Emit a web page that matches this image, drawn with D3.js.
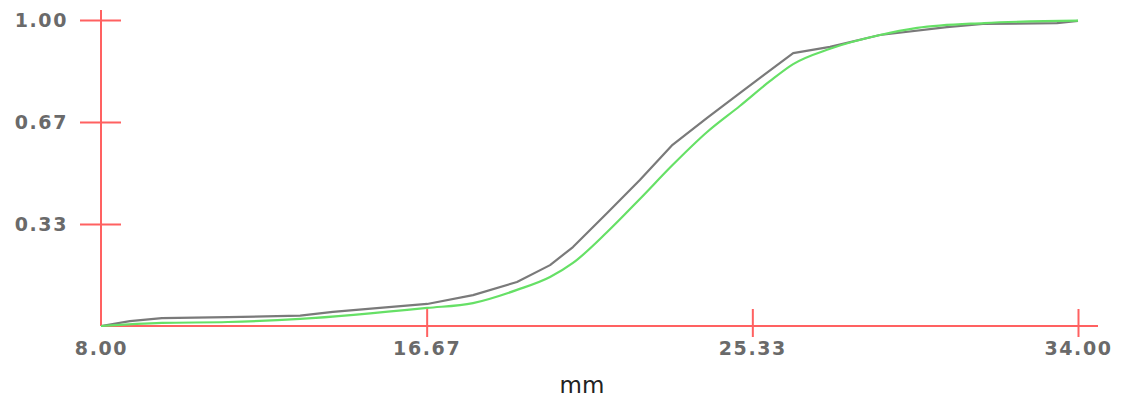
<!DOCTYPE html>
<html>
<head>
<meta charset="utf-8">
<script src="https://cdn.jsdelivr.net/npm/d3@7"></script>
<style>
  html, body { margin: 0; padding: 0; background: #fff; }
  svg { display: block; }
</style>
</head>
<body>
<svg id="chart" width="1127" height="400"></svg>
<script>
// Cumulative distribution of size (mm): measured (gray) and fitted (green)
const measuredMm  = [8.00, 8.77, 9.62, 11.38, 13.30, 14.17, 15.42, 16.68, 17.90, 19.07, 19.95, 20.56, 21.47, 22.34, 23.21, 24.13, 25.00, 26.42, 27.40, 28.73, 30.51, 31.47, 33.44, 34.00];
const measuredVal = [0.000, 0.016, 0.026, 0.029, 0.034, 0.046, 0.059, 0.072, 0.101, 0.144, 0.199, 0.258, 0.369, 0.477, 0.592, 0.680, 0.761, 0.892, 0.912, 0.951, 0.977, 0.987, 0.990, 0.997];

const fittedMm  = [8.00, 9.62, 11.38, 13.30, 16.68, 17.90, 19.07, 19.95, 20.56, 21.47, 22.34, 23.21, 24.13, 25.00, 25.80, 26.42, 27.40, 28.73, 29.72, 31.50, 34.00];
const fittedVal = [0.000, 0.010, 0.013, 0.023, 0.059, 0.075, 0.118, 0.160, 0.206, 0.307, 0.415, 0.526, 0.634, 0.719, 0.800, 0.856, 0.906, 0.951, 0.974, 0.990, 0.998];

const xTicks = [8, 8 + 26 / 3, 8 + 52 / 3, 34];
const yTicks = [1 / 3, 2 / 3, 1];
const xTitle = "mm";

const svg = d3.select("#chart");
const plotLeft = 101, plotRight = 1078, plotTop = 20, plotBottom = 326;

const x = d3.scaleLinear().domain([8, 34]).range([plotLeft, plotRight]);
const y = d3.scaleLinear().domain([0, 1]).range([plotBottom, plotTop]);

const axisColor = "#ff6161";
const labelColor = "#6a6a6a";
const fmt = d3.format(".2f");

// x axis (the tick at the origin is covered by the y axis line)
const gx = svg.append("g").attr("transform", `translate(0,${plotBottom})`)
  .call(d3.axisBottom(x).tickValues(xTicks).tickFormat(fmt).tickSizeOuter(0));
gx.select(".domain").remove();
gx.selectAll(".tick line").attr("y1", -17).attr("y2", 11)
  .attr("stroke", axisColor).attr("stroke-width", 2)
  .attr("display", d => d === xTicks[0] ? "none" : null);
gx.selectAll(".tick text").attr("y", 29).attr("dy", 0)
  .attr("fill", labelColor).attr("font-family", "DejaVu Sans").attr("font-size", 19)
  .attr("font-weight", "bold").attr("letter-spacing", 1.6);

// y axis
const gy = svg.append("g").attr("transform", `translate(${plotLeft},0)`)
  .call(d3.axisLeft(y).tickValues(yTicks).tickFormat(fmt).tickSizeOuter(0));
gy.select(".domain").remove();
gy.selectAll(".tick line").attr("x1", -21).attr("x2", 20)
  .attr("stroke", axisColor).attr("stroke-width", 2);
gy.selectAll(".tick text").attr("x", -33).attr("dy", "0.36em")
  .attr("fill", labelColor).attr("font-family", "DejaVu Sans").attr("font-size", 19)
  .attr("font-weight", "bold").attr("letter-spacing", 1.6);

// axis lines
svg.append("line").attr("x1", plotLeft).attr("x2", 1098).attr("y1", plotBottom).attr("y2", plotBottom)
  .attr("stroke", axisColor).attr("stroke-width", 2);
svg.append("line").attr("x1", plotLeft).attr("x2", plotLeft).attr("y1", 10).attr("y2", plotBottom)
  .attr("stroke", axisColor).attr("stroke-width", 2);

// axis title
svg.append("text").attr("x", 582).attr("y", 393).attr("text-anchor", "middle")
  .attr("font-family", "DejaVu Sans").attr("font-size", 23).attr("fill", "#222")
  .text(xTitle);

// curves
const measured = measuredMm.map((d, i) => [d, measuredVal[i]]);
const fitted = fittedMm.map((d, i) => [d, fittedVal[i]]);

svg.append("path").datum(measured)
  .attr("fill", "none").attr("stroke", "#7a7a7a").attr("stroke-width", 2.2)
  .attr("stroke-linejoin", "round")
  .attr("d", d3.line().x(d => x(d[0])).y(d => y(d[1])).curve(d3.curveLinear));

svg.append("path").datum(fitted)
  .attr("fill", "none").attr("stroke", "#66e066").attr("stroke-width", 2.2)
  .attr("d", d3.line().x(d => x(d[0])).y(d => y(d[1])).curve(d3.curveMonotoneX));
</script>
</body>
</html>
